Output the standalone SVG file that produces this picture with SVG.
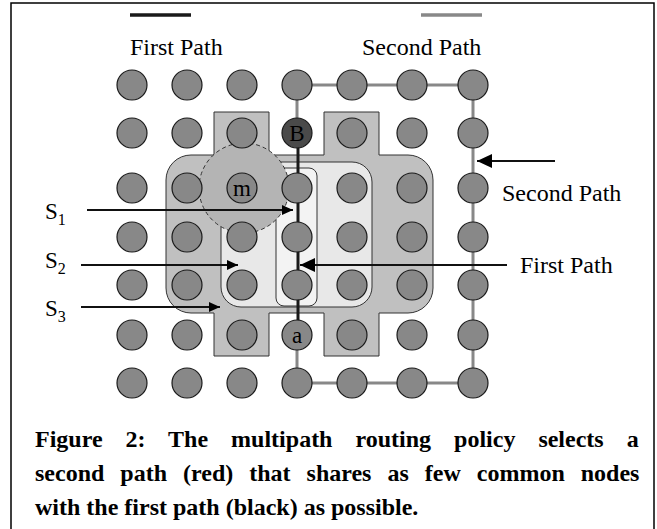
<svg xmlns="http://www.w3.org/2000/svg" width="657" height="529" viewBox="0 0 657 529">
<style>
text{font-family:"Liberation Serif","Times New Roman",serif;fill:#000}
.lbl{font-size:24px}
.s{font-size:23px}
.sub{font-size:16px}
.nl{font-size:23px;text-anchor:middle}
.cap{font-size:24px;font-weight:bold}
.node{fill:#888;stroke:#1a1a1a;stroke-width:1.2}
.p1{stroke:#1a1a1a;stroke-width:3;fill:none}
.p2{stroke:#888;stroke-width:3;fill:none}
.arr{stroke:#111;stroke-width:1.8;fill:none}
</style>
<defs>
<marker id="ah" markerUnits="userSpaceOnUse" markerWidth="12" markerHeight="10" refX="11" refY="5" orient="auto"><path d="M0,0 L11,5 L0,10 Z" fill="#000"/></marker>
<marker id="ahL" markerUnits="userSpaceOnUse" markerWidth="16" markerHeight="14" refX="15" refY="7" orient="auto"><path d="M0,0 L15,7 L0,14 Z" fill="#000"/></marker>
</defs>
<rect x="11" y="3" width="643" height="540" fill="#fff" stroke="#000" stroke-width="1.5"/>
<g id="legend">
<line x1="130" y1="15" x2="191" y2="15" stroke="#1a1a1a" stroke-width="3.5"/>
<line x1="421" y1="15" x2="482" y2="15" stroke="#888" stroke-width="3.5"/>
<text class="lbl" x="130" y="55">First Path</text>
<text class="lbl" x="362" y="55">Second Path</text>
</g>
<g id="regions">
<path id="S3" d="M191,155 H214 V112 H269 V155 H324 V112 H379 V155 H408 A25,25 0 0 1 433,180 V288 A25,25 0 0 1 408,313 H379 V356 H324 V313 H269 V356 H214 V313 H191 A25,25 0 0 1 166,288 V180 A25,25 0 0 1 191,155 Z" fill="#c0c0c0" stroke="#333" stroke-width="1"/>
<rect id="S2" x="221" y="162" width="151" height="145" rx="20" fill="#e8e8e8" stroke="#333" stroke-width="1"/>
<rect id="S1" x="276" y="168" width="41" height="138" rx="8" fill="#f3f3f3" stroke="#333" stroke-width="1"/>
<circle id="mzone" cx="244" cy="188" r="45" fill="#b4b4b4" stroke="#333" stroke-width="1" stroke-dasharray="4,3"/>
</g>
<g id="connectors">
<polyline class="p2" points="297,133 297,85 473,85 473,383 297,383 297,335"/>
<line class="p1" x1="298" y1="133" x2="298" y2="335"/>
<line class="arr" x1="87" y1="210" x2="293" y2="210" marker-end="url(#ah)"/>
<line class="arr" x1="81" y1="265" x2="238" y2="265" marker-end="url(#ah)"/>
<line class="arr" x1="81" y1="307" x2="220" y2="307" stroke-width="1.4" marker-end="url(#ah)"/>
<line class="arr" x1="507" y1="265" x2="300" y2="265" stroke-width="2" marker-end="url(#ahL)"/>
<line class="arr" x1="555" y1="161" x2="477" y2="161" stroke-width="2" marker-end="url(#ahL)"/>
</g>
<g id="nodes">
<g id="r1"><circle class="node" cx="132" cy="85" r="15"/><circle class="node" cx="187" cy="85" r="15"/><circle class="node" cx="242" cy="85" r="15"/><circle class="node" cx="297" cy="85" r="15"/><circle class="node" cx="352" cy="85" r="15"/><circle class="node" cx="412" cy="85" r="15"/><circle class="node" cx="473" cy="85" r="15"/></g>
<g id="r2"><circle class="node" cx="132" cy="133" r="15"/><circle class="node" cx="187" cy="133" r="15"/><circle class="node" cx="242" cy="133" r="15"/><circle class="node" cx="352" cy="133" r="15"/><circle class="node" cx="412" cy="133" r="15"/><circle class="node" cx="473" cy="133" r="15"/></g>
<g id="nodeB"><circle cx="297" cy="133" r="15" fill="#4a4a4a" stroke="#1a1a1a" stroke-width="1.2"/><text class="nl" x="297" y="141">B</text></g>
<g id="r3"><circle class="node" cx="132" cy="188" r="15"/><circle class="node" cx="187" cy="188" r="15"/><circle class="node" cx="297" cy="188" r="15"/><circle class="node" cx="352" cy="188" r="15"/><circle class="node" cx="412" cy="188" r="15"/><circle class="node" cx="473" cy="188" r="15"/></g>
<g id="nodeM"><circle class="node" cx="242" cy="188" r="15"/><text class="nl" x="242" y="196">m</text></g>
<g id="r4"><circle class="node" cx="132" cy="237" r="15"/><circle class="node" cx="187" cy="237" r="15"/><circle class="node" cx="242" cy="237" r="15"/><circle class="node" cx="297" cy="237" r="15"/><circle class="node" cx="352" cy="237" r="15"/><circle class="node" cx="412" cy="237" r="15"/><circle class="node" cx="473" cy="237" r="15"/></g>
<g id="r5"><circle class="node" cx="132" cy="285" r="15"/><circle class="node" cx="187" cy="285" r="15"/><circle class="node" cx="242" cy="285" r="15"/><circle class="node" cx="297" cy="285" r="15"/><circle class="node" cx="352" cy="285" r="15"/><circle class="node" cx="412" cy="285" r="15"/><circle class="node" cx="473" cy="285" r="15"/></g>
<g id="r6"><circle class="node" cx="132" cy="335" r="15"/><circle class="node" cx="187" cy="335" r="15"/><circle class="node" cx="242" cy="335" r="15"/><circle class="node" cx="352" cy="335" r="15"/><circle class="node" cx="412" cy="335" r="15"/><circle class="node" cx="473" cy="335" r="15"/></g>
<g id="nodeA"><circle class="node" cx="297" cy="335" r="15"/><text class="nl" x="297" y="343">a</text></g>
<g id="r7"><circle class="node" cx="132" cy="383" r="15"/><circle class="node" cx="187" cy="383" r="15"/><circle class="node" cx="242" cy="383" r="15"/><circle class="node" cx="297" cy="383" r="15"/><circle class="node" cx="352" cy="383" r="15"/><circle class="node" cx="412" cy="383" r="15"/><circle class="node" cx="473" cy="383" r="15"/></g>
</g>
<g id="labels">
<text class="s" x="45" y="219">S<tspan class="sub" dy="6">1</tspan></text>
<text class="s" x="45" y="268">S<tspan class="sub" dy="6">2</tspan></text>
<text class="s" x="45" y="316">S<tspan class="sub" dy="6">3</tspan></text>
<text class="lbl" x="502" y="201">Second Path</text>
<text class="lbl" x="520" y="273">First Path</text>
</g>
<g id="caption">
<text class="cap" x="35" y="447" word-spacing="17">Figure 2: The multipath routing policy selects a</text>
<text class="cap" x="35" y="481" word-spacing="10">second path (red) that shares as few common nodes</text>
<text class="cap" x="35" y="515">with the first path (black) as possible.</text>
</g>
</svg>
